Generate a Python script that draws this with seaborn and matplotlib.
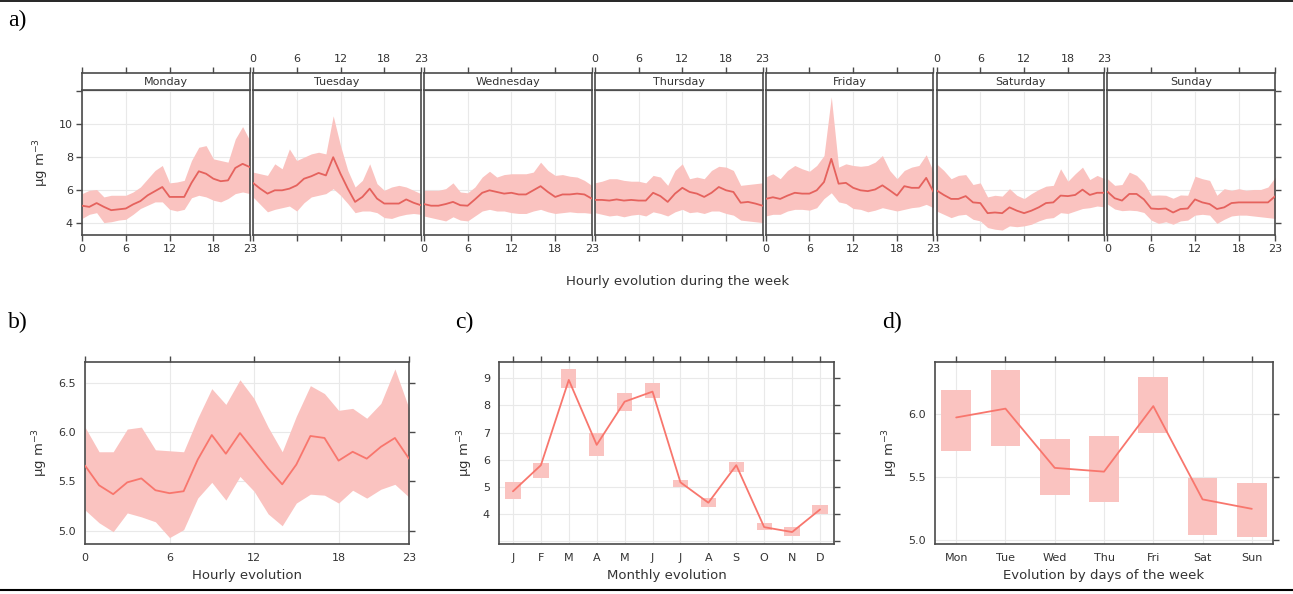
import numpy as np
import pandas as pd
import matplotlib
matplotlib.use("Agg")
import matplotlib.pyplot as plt
import seaborn as sns

# ---------------- data ----------------
days = ["Monday", "Tuesday", "Wednesday", "Thursday", "Friday", "Saturday", "Sunday"]
hours = list(range(24))

mon_mean = [5.07, 5.0, 5.23, 5.0, 4.8, 4.85, 4.9, 5.15, 5.35, 5.7, 5.95, 6.2, 5.6, 5.6, 5.6, 6.45, 7.15, 7.0, 6.7, 6.55, 6.6, 7.35, 7.6, 7.4]
mon_lo = [4.3, 4.55, 4.65, 4.05, 4.1, 4.2, 4.25, 4.55, 4.9, 5.1, 5.3, 5.3, 4.85, 4.75, 4.85, 5.55, 5.7, 5.6, 5.4, 5.3, 5.5, 5.8, 5.9, 5.8]
mon_hi = [5.8, 6.0, 6.05, 5.6, 5.7, 5.7, 5.7, 5.9, 6.2, 6.7, 7.2, 7.5, 6.45, 6.5, 6.6, 7.8, 8.6, 8.7, 7.9, 7.8, 7.7, 9.1, 9.85, 9.0]

tue_mean = [6.45, 6.1, 5.8, 6.0, 6.0, 6.1, 6.3, 6.7, 6.85, 7.05, 6.9, 8.0, 7.0, 6.1, 5.3, 5.6, 6.1, 5.5, 5.2, 5.2, 5.2, 5.45, 5.25, 5.1]
tue_lo = [5.6, 5.15, 4.7, 4.85, 4.95, 5.05, 4.75, 5.25, 5.6, 5.7, 5.8, 6.1, 5.7, 5.2, 4.65, 4.75, 4.75, 4.65, 4.35, 4.3, 4.45, 4.55, 4.6, 4.55]
tue_hi = [7.1, 7.0, 6.9, 7.6, 7.3, 8.5, 7.8, 8.0, 8.2, 8.3, 8.2, 10.5, 8.7, 7.2, 6.2, 6.6, 7.6, 6.4, 6.0, 6.2, 6.3, 6.2, 6.0, 5.8]

wed_mean = [5.17, 5.07, 5.07, 5.17, 5.3, 5.1, 5.07, 5.45, 5.85, 6.0, 5.9, 5.8, 5.85, 5.75, 5.75, 6.0, 6.25, 5.9, 5.6, 5.75, 5.75, 5.8, 5.75, 5.5]
wed_lo = [4.45, 4.35, 4.25, 4.15, 4.4, 4.2, 4.15, 4.45, 4.75, 4.85, 4.75, 4.75, 4.65, 4.6, 4.6, 4.75, 4.85, 4.7, 4.6, 4.65, 4.7, 4.65, 4.65, 4.6]
wed_hi = [6.0, 6.0, 6.0, 6.1, 6.45, 5.9, 5.85, 6.2, 6.8, 7.15, 6.8, 6.95, 7.0, 7.0, 7.0, 7.1, 7.7, 7.2, 6.9, 6.95, 6.85, 6.8, 6.6, 6.3]

thu_mean = [5.42, 5.42, 5.38, 5.45, 5.38, 5.42, 5.38, 5.38, 5.85, 5.65, 5.3, 5.8, 6.15, 5.9, 5.8, 5.6, 5.85, 6.2, 6.0, 5.9, 5.25, 5.3, 5.2, 5.07]
thu_lo = [4.65, 4.55, 4.45, 4.5, 4.4, 4.5, 4.55, 4.45, 4.7, 4.6, 4.45, 4.7, 4.85, 4.65, 4.7, 4.6, 4.75, 4.75, 4.6, 4.5, 4.2, 4.15, 4.1, 4.05]
thu_hi = [6.45, 6.55, 6.7, 6.7, 6.6, 6.55, 6.55, 6.45, 6.9, 6.8, 6.3, 7.2, 7.6, 6.7, 6.8, 6.7, 7.2, 7.45, 7.4, 7.2, 6.3, 6.35, 6.4, 6.45]

fri_mean = [5.48, 5.58, 5.48, 5.68, 5.85, 5.8, 5.8, 6.0, 6.5, 7.9, 6.4, 6.45, 6.15, 6.0, 5.95, 6.05, 6.3, 6.0, 5.68, 6.25, 6.15, 6.15, 6.75, 5.9]
fri_lo = [4.45, 4.55, 4.55, 4.75, 4.85, 4.85, 4.8, 4.95, 5.5, 5.85, 5.3, 5.2, 4.9, 4.85, 4.7, 4.8, 4.95, 4.85, 4.75, 4.85, 4.95, 5.0, 5.15, 4.95]
fri_hi = [6.8, 7.0, 6.7, 7.2, 7.5, 7.3, 7.15, 7.5, 8.1, 11.65, 7.4, 7.6, 7.5, 7.45, 7.5, 7.7, 8.1, 7.2, 6.7, 7.2, 7.4, 7.5, 8.15, 7.1]

sat_mean = [6.0, 5.72, 5.48, 5.48, 5.65, 5.27, 5.23, 4.62, 4.66, 4.62, 4.97, 4.77, 4.62, 4.77, 4.97, 5.23, 5.27, 5.68, 5.65, 5.72, 6.04, 5.72, 5.85, 5.85]
sat_lo = [4.75, 4.55, 4.35, 4.5, 4.55, 4.25, 4.15, 3.75, 3.65, 3.6, 3.85, 3.8, 3.85, 3.95, 4.15, 4.3, 4.35, 4.65, 4.6, 4.75, 4.9, 4.95, 5.05, 5.0]
sat_hi = [7.6, 7.2, 6.7, 6.9, 6.95, 6.35, 6.45, 5.6, 5.7, 5.65, 6.1, 5.7, 5.5, 5.8, 6.05, 6.25, 6.3, 7.3, 6.55, 7.0, 7.4, 6.65, 6.9, 6.7]

sun_mean = [5.92, 5.52, 5.38, 5.78, 5.78, 5.45, 4.9, 4.87, 4.9, 4.66, 4.87, 4.9, 5.45, 5.27, 5.17, 4.87, 4.97, 5.23, 5.27, 5.27, 5.27, 5.27, 5.27, 5.65]
sun_lo = [5.17, 4.87, 4.77, 4.8, 4.77, 4.66, 4.2, 4.0, 4.1, 3.95, 4.15, 4.2, 4.5, 4.55, 4.5, 4.0, 4.25, 4.45, 4.5, 4.5, 4.45, 4.4, 4.35, 4.3]
sun_hi = [6.7, 6.3, 6.35, 7.1, 6.9, 6.45, 5.7, 5.72, 5.7, 5.52, 5.72, 5.7, 6.85, 6.7, 6.6, 5.7, 6.1, 6.0, 6.1, 6.0, 6.05, 6.05, 6.2, 6.8]

# panel b: hourly
hour_mean = [5.66, 5.46, 5.37, 5.49, 5.53, 5.41, 5.38, 5.40, 5.72, 5.97, 5.78, 5.99, 5.81, 5.63, 5.47, 5.67, 5.96, 5.94, 5.71, 5.80, 5.73, 5.85, 5.94, 5.73]
hour_lo = [5.21, 5.08, 4.99, 5.18, 5.14, 5.09, 4.93, 5.01, 5.33, 5.49, 5.31, 5.55, 5.40, 5.17, 5.05, 5.28, 5.37, 5.36, 5.28, 5.41, 5.33, 5.42, 5.47, 5.34]
hour_hi = [6.05, 5.80, 5.80, 6.03, 6.05, 5.82, 5.81, 5.80, 6.14, 6.44, 6.28, 6.53, 6.34, 6.05, 5.80, 6.16, 6.47, 6.39, 6.22, 6.24, 6.14, 6.29, 6.64, 6.24]

# panel c: monthly
months = ["J", "F", "M", "A", "M", "J", "J", "A", "S", "O", "N", "D"]
month_mean = [4.84, 5.8, 8.94, 6.55, 8.14, 8.51, 5.17, 4.42, 5.8, 3.52, 3.34, 4.17]
month_lo = [4.56, 5.33, 8.63, 6.13, 7.78, 8.27, 5.0, 4.27, 5.54, 3.40, 3.19, 3.99]
month_hi = [5.17, 5.9, 9.33, 6.98, 8.45, 8.82, 5.27, 4.6, 5.92, 3.66, 3.52, 4.33]

# panel d: weekday
wdays = ["Mon", "Tue", "Wed", "Thu", "Fri", "Sat", "Sun"]
wday_mean = [5.97, 6.04, 5.57, 5.54, 6.06, 5.32, 5.245]
wday_lo = [5.70, 5.74, 5.355, 5.30, 5.85, 5.04, 5.02]
wday_hi = [6.19, 6.35, 5.80, 5.82, 6.29, 5.49, 5.45]

week_mean = [mon_mean, tue_mean, wed_mean, thu_mean, fri_mean, sat_mean, sun_mean]
week_lo = [mon_lo, tue_lo, wed_lo, thu_lo, fri_lo, sat_lo, sun_lo]
week_hi = [mon_hi, tue_hi, wed_hi, thu_hi, fri_hi, sat_hi, sun_hi]

# ---------------- style ----------------
sns.set_theme(style="white")
plt.rcParams["font.family"] = ["DejaVu Sans"]

LINE_A = "#E5625D"
LINE = "#F8766D"
BAND = "#FAC3C0"
FRAME = "#4a4a4a"
GRID = "#e9e9e9"
TXT = "#333333"
UNIT = "μg m$^{-3}$"

W, H = 1293, 594
fig = plt.figure(figsize=(W / 100, H / 100), dpi=100)


def rect(x0, y0, x1, y1):
    return [x0 / W, 1 - y1 / H, (x1 - x0) / W, (y1 - y0) / H]


def frame(ax, lw=1.2):
    for s in ax.spines.values():
        s.set_visible(True)
        s.set_color(FRAME)
        s.set_linewidth(lw)
    ax.tick_params(direction="out", length=4.5, width=1.0, color=FRAME,
                   labelsize=8, labelcolor=TXT, pad=2)


# ---------------- panel a ----------------
x_start, pw, gap = 82.0, 167.9, 3.0
for i, day in enumerate(days):
    left = x_start + i * (pw + gap)
    ax = fig.add_axes(rect(left, 90, left + pw, 235))
    frame(ax)
    ax.fill_between(hours, week_lo[i], week_hi[i], color=BAND, lw=0, zorder=2)
    sns.lineplot(x=hours, y=week_mean[i], ax=ax, color=LINE_A, lw=1.3, zorder=3)
    ax.set_xlim(0, 23)
    ax.set_ylim(3.3, 12.06)
    ax.set_xticks([0, 6, 12, 18, 23])
    ax.set_yticks([4, 6, 8, 10, 12])
    ax.set_yticklabels(["4", "6", "8", "10", ""])
    ax.grid(True, color=GRID, lw=0.8, zorder=0)
    ax.set_axisbelow(True)
    ax.tick_params(axis="x", bottom=True, labelbottom=(i % 2 == 0))
    ax.tick_params(axis="y", left=(i == 0), labelleft=(i == 0),
                   right=(i == 6), labelright=False)
    ax.set_xlabel("")
    ax.set_ylabel("")
    if i == 0:
        ax.set_ylabel(UNIT, fontsize=9.5, color=TXT, labelpad=6)
    # strip
    st = fig.add_axes(rect(left, 73, left + pw, 90))
    frame(st)
    st.set_xlim(0, 23)
    st.set_ylim(0, 1)
    st.set_facecolor("white")
    st.set_yticks([])
    st.xaxis.tick_top()
    st.set_xticks([0, 6, 12, 18, 23])
    st.tick_params(axis="x", top=True, bottom=False, labeltop=(i % 2 == 1), labelbottom=False)
    st.text(11.5, 0.45, day, ha="center", va="center", fontsize=8, color=TXT)

fig.text(678 / W, 1 - 282 / H, "Hourly evolution during the week", ha="center",
         va="center", fontsize=9.5, color=TXT)

# ---------------- panel b ----------------
axb = fig.add_axes(rect(85, 362, 409, 544))
frame(axb)
axb.fill_between(hours, hour_lo, hour_hi, color=BAND, lw=0, zorder=2)
sns.lineplot(x=hours, y=hour_mean, ax=axb, color=LINE, lw=1.3, zorder=3)
axb.set_xlim(0, 23)
axb.set_ylim(4.865, 6.71)
axb.set_xticks([0, 6, 12, 18, 23])
axb.set_yticks([5.0, 5.5, 6.0, 6.5])
axb.set_yticklabels(["5.0", "5.5", "6.0", "6.5"])
axb.grid(True, color=GRID, lw=0.8, zorder=0)
axb.set_axisbelow(True)
axb.tick_params(top=True, right=True)
axb.set_xlabel("Hourly evolution", fontsize=9.5, color=TXT, labelpad=4)
axb.set_ylabel(UNIT, fontsize=9.5, color=TXT, labelpad=6)

# ---------------- panel c ----------------
axc = fig.add_axes(rect(499, 362, 834, 544))
frame(axc)
mx = np.arange(len(months))
axc.bar(mx, np.array(month_hi) - np.array(month_lo), bottom=month_lo, width=0.55,
        color=BAND, lw=0, zorder=2)
sns.lineplot(x=mx, y=month_mean, ax=axc, color=LINE, lw=1.3, zorder=3)
axc.set_xlim(-0.5, 11.5)
axc.set_ylim(2.9, 9.6)
axc.set_xticks(mx)
axc.set_xticklabels(months)
axc.set_yticks([3, 4, 5, 6, 7, 8, 9])
axc.set_yticklabels(["", "4", "5", "6", "7", "8", "9"])
axc.grid(True, color=GRID, lw=0.8, zorder=0)
axc.set_axisbelow(True)
axc.tick_params(top=True, right=True)
axc.set_xlabel("Monthly evolution", fontsize=9.5, color=TXT, labelpad=4)
axc.set_ylabel(UNIT, fontsize=9.5, color=TXT, labelpad=6)

# ---------------- panel d ----------------
axd = fig.add_axes(rect(935, 362, 1273, 544))
frame(axd)
dx = np.arange(len(wdays))
axd.bar(dx, np.array(wday_hi) - np.array(wday_lo), bottom=wday_lo, width=0.6,
        color=BAND, lw=0, zorder=2)
sns.lineplot(x=dx, y=wday_mean, ax=axd, color=LINE, lw=1.3, zorder=3)
axd.set_xlim(-0.43, 6.43)
axd.set_ylim(4.966, 6.41)
axd.set_xticks(dx)
axd.set_xticklabels(wdays)
axd.set_yticks([5.0, 5.5, 6.0])
axd.set_yticklabels(["5.0", "5.5", "6.0"])
axd.grid(True, color=GRID, lw=0.8, zorder=0)
axd.set_axisbelow(True)
axd.tick_params(top=True, right=True)
axd.set_xlabel("Evolution by days of the week", fontsize=9.5, color=TXT, labelpad=4)
axd.set_ylabel(UNIT, fontsize=9.5, color=TXT, labelpad=6)

# ---------------- panel letters & rules ----------------
for lab, x, y in [("a)", 8, 20), ("b)", 8, 322), ("c)", 455, 322), ("d)", 882, 322)]:
    fig.text(x / W, 1 - y / H, lab, ha="left", va="center", fontsize=17,
             family=["Liberation Serif", "DejaVu Serif"], color="black")

fig.add_artist(plt.Line2D([0, 1], [1 - 0.8 / H, 1 - 0.8 / H], color="black", lw=1.2,
                          transform=fig.transFigure))
fig.add_artist(plt.Line2D([0, 1], [1 - 590 / H, 1 - 590 / H], color="black", lw=1.5,
                          transform=fig.transFigure))

fig.savefig("out.png", dpi=100, facecolor="white")
